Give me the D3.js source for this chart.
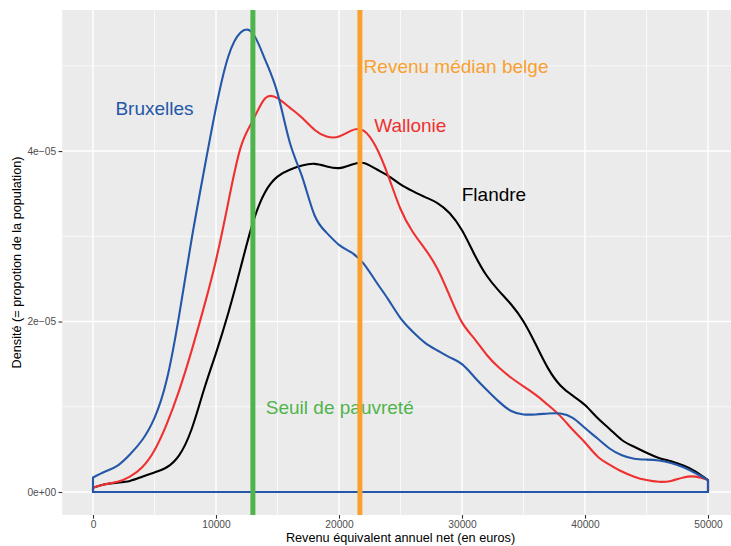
<!DOCTYPE html>
<html lang="fr">
<head>
<meta charset="utf-8">
<title>Densité des revenus</title>
<script src="https://cdn.jsdelivr.net/npm/d3@7"></script>
<style>
  body { margin: 0; background: #fff; }
  text { font-family: "Liberation Sans", Arial, Helvetica, sans-serif; }
</style>
</head>
<body>
<script>
// revenu équivalent annuel net (euros)
var incomes = [0, 1000, 2000, 3000, 4000, 5000, 6000, 7000, 8000, 9000,
  10000, 11000, 12000, 13000, 14000, 15000, 16000, 17000, 18000, 19000,
  20000, 21000, 22000, 23000, 24000, 25000, 26000, 27000, 28000, 29000,
  30000, 31000, 32000, 33000, 34000, 35000, 36000, 37000, 38000, 39000,
  40000, 41000, 42000, 43000, 44000, 45000, 46000, 47000, 48000, 49000, 50000];

// densités, en unités de 1e-05
var bruxelles = [0.17, 0.24, 0.31, 0.44, 0.61, 0.87, 1.32, 2.07, 2.95, 3.75,
  4.51, 5.11, 5.39, 5.38, 5.07, 4.68, 4.10, 3.70, 3.25, 3.04,
  2.90, 2.81, 2.68, 2.47, 2.26, 2.04, 1.88, 1.75, 1.66, 1.58,
  1.50, 1.35, 1.20, 1.06, 0.95, 0.91, 0.91, 0.92, 0.92, 0.87,
  0.75, 0.63, 0.51, 0.43, 0.39, 0.38, 0.37, 0.34, 0.29, 0.22, 0.14];
var wallonie = [0.05, 0.09, 0.12, 0.18, 0.29, 0.49, 0.80, 1.19, 1.65, 2.16,
  2.72, 3.40, 4.04, 4.36, 4.62, 4.62, 4.51, 4.39, 4.25, 4.17,
  4.17, 4.24, 4.24, 4.05, 3.71, 3.32, 3.05, 2.85, 2.62, 2.30,
  1.99, 1.80, 1.61, 1.46, 1.34, 1.24, 1.14, 1.02, 0.89, 0.73,
  0.58, 0.42, 0.32, 0.24, 0.18, 0.14, 0.12, 0.13, 0.17, 0.18, 0.14];
var flandre = [0.05, 0.09, 0.11, 0.13, 0.18, 0.23, 0.29, 0.43, 0.73, 1.19,
  1.63, 2.10, 2.63, 3.16, 3.52, 3.70, 3.78, 3.83, 3.85, 3.82,
  3.80, 3.84, 3.86, 3.79, 3.71, 3.61, 3.53, 3.46, 3.39, 3.27,
  3.07, 2.79, 2.54, 2.36, 2.20, 2.00, 1.73, 1.45, 1.25, 1.13,
  1.02, 0.87, 0.74, 0.61, 0.53, 0.46, 0.40, 0.36, 0.31, 0.24, 0.14];

var xTicks = [0, 10000, 20000, 30000, 40000, 50000];
var xMinor = [5000, 15000, 25000, 35000, 45000];
var yTicks = [0, 2, 4];
var yTickLabels = ["0e+00", "2e\u221205", "4e\u221205"];
var yMinor = [1, 3, 5];

var seuil = 13000;
var median = 21700;

var annotations = [
  { text: "Bruxelles", x: 5000, y: 4.5, anchor: "middle", color: "#2457a8" },
  { text: "Wallonie", x: 25800, y: 4.3, anchor: "middle", color: "#ee3130" },
  { text: "Flandre", x: 32600, y: 3.5, anchor: "middle", color: "#000000" },
  { text: "Revenu médian belge", x: 22000, y: 5.0, anchor: "start", color: "#f9a02f" },
  { text: "Seuil de pauvreté", x: 14050, y: 1.0, anchor: "start", color: "#4fb44b" }
];

var width = 731, height = 546;
var panel = { left: 62.25, right: 738.75, top: 10, bottom: 515 };

var svg = d3.select("body").append("svg").attr("width", width).attr("height", height);

var x = d3.scaleLinear().domain([-2500, 52500]).range([panel.left, panel.right]);
var y = d3.scaleLinear().domain([-0.27, 5.655]).range([panel.bottom, panel.top]);

svg.append("defs").append("clipPath").attr("id", "clip")
  .append("rect").attr("x", panel.left).attr("y", panel.top)
  .attr("width", panel.right - panel.left).attr("height", panel.bottom - panel.top);

svg.append("rect").attr("x", panel.left).attr("y", panel.top)
  .attr("width", panel.right - panel.left).attr("height", panel.bottom - panel.top)
  .attr("fill", "#ebebeb");

var g = svg.append("g").attr("clip-path", "url(#clip)");

// grille
g.selectAll(".xminor").data(xMinor).enter().append("line")
  .attr("x1", function (d) { return x(d) }).attr("x2", function (d) { return x(d) })
  .attr("y1", panel.top).attr("y2", panel.bottom)
  .attr("stroke", "#fff").attr("stroke-width", 0.7);
g.selectAll(".yminor").data(yMinor).enter().append("line")
  .attr("y1", function (d) { return y(d) }).attr("y2", function (d) { return y(d) })
  .attr("x1", panel.left).attr("x2", panel.right)
  .attr("stroke", "#fff").attr("stroke-width", 0.7);
g.selectAll(".xmajor").data(xTicks).enter().append("line")
  .attr("x1", function (d) { return x(d) }).attr("x2", function (d) { return x(d) })
  .attr("y1", panel.top).attr("y2", panel.bottom)
  .attr("stroke", "#fff").attr("stroke-width", 1.4);
g.selectAll(".ymajor").data(yTicks).enter().append("line")
  .attr("y1", function (d) { return y(d) }).attr("y2", function (d) { return y(d) })
  .attr("x1", panel.left).attr("x2", panel.right)
  .attr("stroke", "#fff").attr("stroke-width", 1.4);

// courbes de densité (contour fermé comme geom_density)
var series = [
  { values: flandre, color: "#000000" },
  { values: wallonie, color: "#ee3130" },
  { values: bruxelles, color: "#2457a8" }
];
var area = d3.area()
  .x(function (d) { return x(d[0]) })
  .y0(y(0))
  .y1(function (d) { return y(d[1]) })
  .curve(d3.curveNatural);

series.forEach(function (s) {
  var pts = incomes.map(function (v, i) { return [v, s.values[i]] });
  g.append("path").attr("d", area(pts))
    .attr("fill", "none").attr("stroke", s.color)
    .attr("stroke-width", 2.1).attr("stroke-linejoin", "round");
});

// annotations
g.selectAll(".annot").data(annotations).enter().append("text")
  .attr("x", function (d) { return x(d.x) })
  .attr("y", function (d) { return y(d.y) })
  .attr("dy", "0.36em")
  .attr("text-anchor", function (d) { return d.anchor })
  .attr("font-size", "19px")
  .attr("fill", function (d) { return d.color })
  .text(function (d) { return d.text });

// lignes verticales
g.append("line").attr("x1", x(seuil)).attr("x2", x(seuil))
  .attr("y1", panel.top).attr("y2", panel.bottom)
  .attr("stroke", "#4fb44b").attr("stroke-width", 5);
g.append("line").attr("x1", x(median)).attr("x2", x(median))
  .attr("y1", panel.top).attr("y2", panel.bottom)
  .attr("stroke", "#f9a02f").attr("stroke-width", 5);

// axes
var xAxis = svg.append("g").attr("transform", "translate(0," + panel.bottom + ")")
  .call(d3.axisBottom(x).tickValues(xTicks).tickFormat(d3.format("d")).tickSize(3.7).tickPadding(2.5));
var yAxis = svg.append("g").attr("transform", "translate(" + panel.left + ",0)")
  .call(d3.axisLeft(y).tickValues(yTicks).tickFormat(function (d, i) { return yTickLabels[i] }).tickSize(3.7).tickPadding(2.5));

[xAxis, yAxis].forEach(function (a) {
  a.select(".domain").remove();
  a.selectAll(".tick line").attr("stroke", "#333").attr("stroke-width", 1.1);
  a.selectAll(".tick text").attr("fill", "#4d4d4d").attr("font-size", "10.2px")
    .attr("font-family", "'Liberation Sans', Arial, Helvetica, sans-serif");
});

svg.append("text")
  .attr("x", (panel.left + panel.right) / 2).attr("y", 542)
  .attr("text-anchor", "middle").attr("font-size", "12.7px").attr("fill", "#000")
  .text("Revenu équivalent annuel net (en euros)");

svg.append("text")
  .attr("transform", "translate(17," + (panel.top + panel.bottom) / 2 + ") rotate(-90)")
  .attr("dy", "0.35em")
  .attr("text-anchor", "middle").attr("font-size", "12.7px").attr("fill", "#000")
  .text("Densité (= propotion de la population)");
</script>
</body>
</html>
